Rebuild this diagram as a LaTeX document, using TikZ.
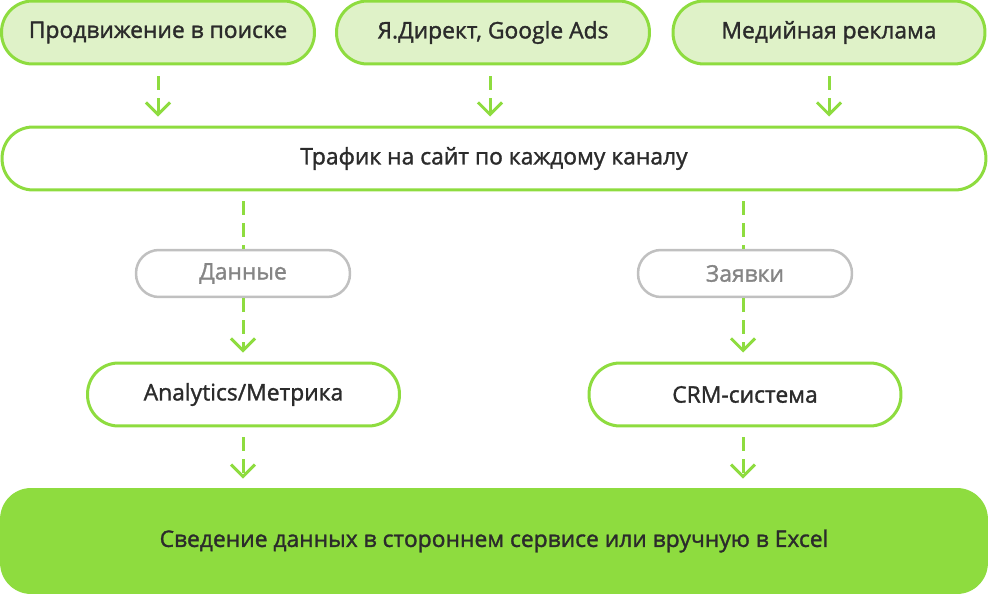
\documentclass[tikz,border=0pt]{standalone}
\usepackage{fontspec}
\setmainfont{Open Sans}
\newfontfamily\semifont{Open Sans}[FakeBold=1.4]
\usetikzlibrary{arrows.meta}

\definecolor{leafgreen}{HTML}{8EDC3F}
\definecolor{palegreen}{HTML}{DFF2C8}
\definecolor{softgray}{HTML}{C0C0C0}
\definecolor{labelgray}{HTML}{858585}
\definecolor{inkgray}{HTML}{2B2B2B}

\tikzset{
	channel/.style={draw=leafgreen, fill=palegreen, line width=0.06cm, rounded corners=0.62cm, minimum height=1.26cm, text=inkgray},
	tool/.style={draw=leafgreen, fill=white, line width=0.06cm, rounded corners=0.62cm, minimum height=1.26cm, text=inkgray},
	tag/.style={draw=softgray, fill=white, line width=0.05cm, rounded corners=0.46cm, minimum width=4.28cm, minimum height=0.94cm, text=labelgray},
	flow/.style={draw=leafgreen, line width=0.06cm, dash pattern=on 2.7mm off 1.7mm},
	flowarrow/.style={flow, -{Straight Barb[length=2.4mm,width=4.8mm,line width=0.06cm]}}
}

\begin{document}
\begin{tikzpicture}[x=0.02cm,y=-0.02cm, font=\semifont\fontsize{13}{15}\selectfont]
		\useasboundingbox (0,0) rectangle (988,594);
		
		% channels
		\node[channel, minimum width=6.26cm] (search) at (158,32.5) {Продвижение в поиске};
		\node[channel, minimum width=6.26cm] (direct) at (493,32.5) {Я.Директ, Google Ads};
		\node[channel, minimum width=6.24cm] (media) at (829,32.5) {Медийная реклама};
		
		% traffic
		\node[tool, minimum width=19.68cm] (traffic) at (494,158.5) {Трафик на сайт по каждому каналу};
		
		% labels on the way down
		\node[tag] (data) at (243,273.5) {Данные};
		\node[tag] (leads) at (745,273.5) {Заявки};
		
		% systems
		\node[tool, minimum width=6.24cm] (metrics) at (243.5,394.5) {Analytics/Метрика};
		\node[tool, minimum width=6.24cm] (crm) at (745,394.5) {CRM-система};
		
		% result
		\node[fill=leafgreen, rounded corners=0.62cm, minimum width=19.76cm, minimum height=2.12cm, text=inkgray] (report) at (494,541) {Сведение данных в стороннем сервисе или вручную в Excel};
		
		% arrows
		\draw[flowarrow, shorten <=0.22cm, shorten >=0.18cm] (search) -- (search |- traffic.north);
		\draw[flowarrow, shorten <=0.22cm, shorten >=0.18cm] ([xshift=-0.06cm]direct.south) -- ([xshift=-0.06cm]direct.south |- traffic.north);
		\draw[flowarrow, shorten <=0.22cm, shorten >=0.18cm] (media) -- (media |- traffic.north);
		
		\draw[flow, shorten <=0.2cm] (data |- traffic.south) -- (data.north);
		\draw[flowarrow, shorten >=0.18cm] (data.south) -- (data |- metrics.north);
		\draw[flow, shorten <=0.2cm] ([xshift=-0.04cm]leads |- traffic.south) -- ([xshift=-0.04cm]leads.north);
		\draw[flowarrow, shorten >=0.18cm] ([xshift=-0.04cm]leads.south) -- ([xshift=-0.04cm]leads |- crm.north);
		
		\draw[flowarrow, shorten <=0.2cm, shorten >=0.18cm] (data |- metrics.south) -- (data |- report.north);
		\draw[flowarrow, shorten <=0.2cm, shorten >=0.18cm] ([xshift=-0.04cm]leads |- crm.south) -- ([xshift=-0.04cm]leads |- report.north);
\end{tikzpicture}
\end{document}
